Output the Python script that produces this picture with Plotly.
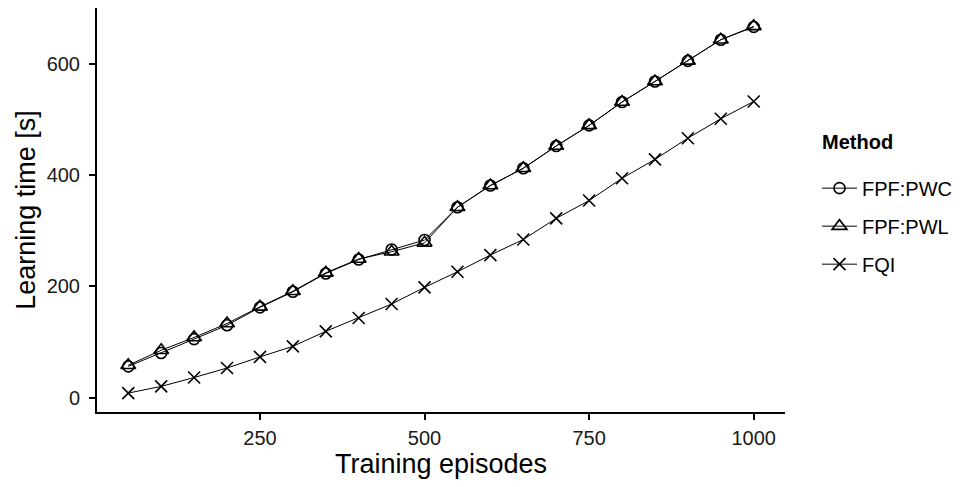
import plotly.graph_objects as go

episodes = [50, 100, 150, 200, 250, 300, 350, 400, 450, 500,
            550, 600, 650, 700, 750, 800, 850, 900, 950, 1000]
fpf_pwc = [56, 80, 105, 130, 162, 190, 223, 248, 266, 283,
           342, 381, 412, 452, 489, 531, 568, 605, 643, 666]
fpf_pwl = [58, 85, 108, 133, 163, 191, 224, 249, 262, 278,
           342, 381, 412, 452, 489, 531, 568, 605, 643, 667]
fqi = [8, 20, 36, 53, 73, 92, 119, 143, 168, 198,
       226, 256, 284, 322, 354, 394, 428, 466, 501, 532]

xticks = [250, 500, 750, 1000]
yticks = [0, 200, 400, 600]

font = "Liberation Sans, Arial, sans-serif"

fig = go.Figure()
fig.add_trace(go.Scatter(x=episodes, y=fpf_pwc, name="FPF:PWC", mode="lines+markers",
                         legendgroup="a",
                         line=dict(color="black", width=1),
                         marker=dict(symbol="circle-open", size=11, color="black",
                                     line=dict(width=1.6, color="black"))))
fig.add_trace(go.Scatter(x=episodes, y=fpf_pwl, name="FPF:PWL", mode="lines+markers",
                         legendgroup="b",
                         line=dict(color="black", width=1),
                         marker=dict(symbol="triangle-up-open", size=13, color="black",
                                     line=dict(width=1.6, color="black"))))
fig.add_trace(go.Scatter(x=episodes, y=fqi, name="FQI", mode="lines+markers",
                         legendgroup="c",
                         line=dict(color="black", width=1),
                         marker=dict(symbol="x-thin-open", size=12, color="black",
                                     line=dict(width=1.6, color="black"))))

axis_common = dict(showline=True, linecolor="black", linewidth=2, ticks="outside",
                   ticklen=6, tickwidth=1.5, tickcolor="black", showgrid=False,
                   zeroline=False, tickfont=dict(size=20, color="#1a1a1a", family=font),
                   mirror=False, automargin=False)

# The page body has an 8px default margin, so the figure is sized to fit.
fig.update_layout(
    width=968, height=479,
    paper_bgcolor="white", plot_bgcolor="white",
    margin=dict(l=89, r=191, t=0, b=75),
    font=dict(family=font, color="black"),
    xaxis=dict(range=[2.5, 1047.5], tickvals=xticks, ticklabelstandoff=1,
               title=dict(text="Training episodes", font=dict(size=27), standoff=4),
               **axis_common),
    yaxis=dict(range=[-26, 700], tickvals=yticks, ticklabelstandoff=5,
               title=dict(text="Learning time [s]", font=dict(size=27), standoff=3),
               **axis_common),
    legend=dict(x=1.0465, y=0.46, xanchor="left", yanchor="middle",
                font=dict(size=20), tracegroupgap=9, itemwidth=35),
    annotations=[dict(text="<b>Method</b>", x=1.051, y=0.668, xref="paper", yref="paper",
                      xanchor="left", yanchor="middle", showarrow=False,
                      font=dict(size=20, color="black"))],
)

fig.write_html("out.html")
